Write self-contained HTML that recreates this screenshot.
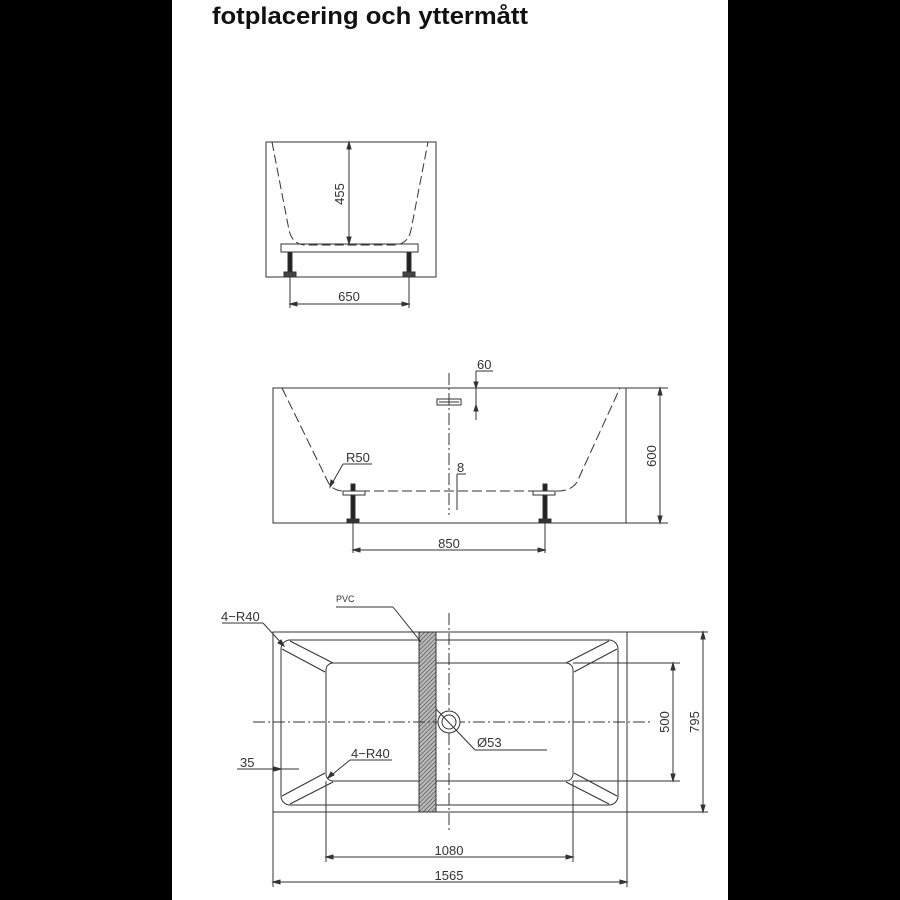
<!DOCTYPE html>
<html><head><meta charset="utf-8"><style>
html,body{margin:0;padding:0;background:#000;}
svg{display:block;}
text{font-family:"Liberation Sans",sans-serif;fill:#333;}
</style></head><body>
<svg width="900" height="900" viewBox="0 0 900 900" xmlns="http://www.w3.org/2000/svg">
<defs>
<pattern id="h" width="3" height="3" patternUnits="userSpaceOnUse" patternTransform="rotate(45)">
<rect width="3" height="3" fill="#bbb"/><line x1="0" y1="0" x2="0" y2="3" stroke="#444" stroke-width="1.2"/>
</pattern>
</defs>
<rect x="0" y="0" width="900" height="900" fill="#000"/>
<rect x="172" y="0" width="556" height="900" fill="#fff"/>
<text x="212" y="24" font-size="24" font-weight="bold" style="fill:#111" textLength="316" lengthAdjust="spacingAndGlyphs">fotplacering och yttermått</text>

<g stroke="#333" stroke-width="1" fill="none">
<!-- view 1 -->
<rect x="266" y="142" width="170" height="135"/>
<path d="M272 142 L289 230 Q292 244 305 245 L395 245 Q408 244 411 230 L428 142" stroke-dasharray="9,4"/>
<rect x="281" y="244" width="137" height="8"/>
<line x1="349" y1="142" x2="349" y2="244"/>
<path d="M349 142 l-2 7 h4z M349 244 l-2 -7 h4z" fill="#333"/>
<line x1="290" y1="277" x2="290" y2="308"/><line x1="409" y1="277" x2="409" y2="308"/>
<line x1="290" y1="304" x2="409" y2="304"/>
<path d="M290 304 l7 -2 v4z M409 304 l-7 -2 v4z" fill="#333"/>
<rect x="288" y="252" width="4" height="20" fill="#222"/>
<rect x="407" y="252" width="4" height="20" fill="#222"/>
<rect x="284" y="272" width="12" height="5" fill="#444"/>
<rect x="403" y="272" width="12" height="5" fill="#444"/>

<!-- view 2 -->
<rect x="273" y="388" width="353" height="135"/>
<path d="M282 388 L328 482 Q332 490 342 491 L560 491 Q572 490 577 482 L620 388" stroke-dasharray="10,4"/>
<line x1="449" y1="373" x2="449" y2="515" stroke-dasharray="12,3,2,3"/>
<rect x="437" y="399" width="24" height="6"/>
<line x1="439" y1="402" x2="459" y2="402"/>
<line x1="476" y1="371" x2="476" y2="420"/><line x1="476" y1="371" x2="493" y2="371"/>
<path d="M476 388 l-2 -6 h4z M476 405 l-2 6 h4z" fill="#333"/>
<line x1="457" y1="474" x2="457" y2="510"/><line x1="457" y1="474" x2="466" y2="474"/>
<line x1="343" y1="464" x2="372" y2="464"/><line x1="343" y1="464" x2="330" y2="487"/>
<path d="M330 487 l1 -7 l3 2z" fill="#333"/>
<rect x="343" y="491" width="22" height="4"/>
<rect x="533" y="491" width="22" height="4"/>
<rect x="351" y="484" width="4" height="7" fill="#222"/>
<rect x="543" y="484" width="4" height="7" fill="#222"/>
<rect x="351" y="495" width="4" height="24" fill="#222"/>
<rect x="543" y="495" width="4" height="24" fill="#222"/>
<rect x="347" y="519" width="12" height="4" fill="#333"/>
<rect x="539" y="519" width="12" height="4" fill="#333"/>
<line x1="626" y1="388" x2="668" y2="388"/><line x1="626" y1="523" x2="668" y2="523"/>
<line x1="660" y1="388" x2="660" y2="523"/>
<path d="M660 388 l-2 7 h4z M660 523 l-2 -7 h4z" fill="#333"/>
<line x1="353" y1="523" x2="353" y2="553"/><line x1="545" y1="523" x2="545" y2="553"/>
<line x1="353" y1="550" x2="545" y2="550"/>
<path d="M353 550 l7 -2 v4z M545 550 l-7 -2 v4z" fill="#333"/>

<!-- view 3 -->
<rect x="273" y="632" width="354" height="180"/>
<rect x="281" y="640" width="337" height="165" rx="9"/>
<rect x="326" y="663" width="247" height="118" rx="7"/>
<rect x="419" y="632" width="17" height="180" fill="url(#h)" stroke="#333"/>
<path d="M290 641 L333 663 M282 649 L325 672"/>
<path d="M609 641 L566 663 M617 649 L574 672"/>
<path d="M290 804 L333 782 M282 796 L325 773"/>
<path d="M609 804 L566 782 M617 796 L574 773"/>
<line x1="449" y1="613" x2="449" y2="830" stroke-dasharray="12,3,2,3"/>
<line x1="253" y1="722" x2="650" y2="722" stroke-dasharray="12,3,2,3"/>
<circle cx="449" cy="722" r="11" fill="#fff"/>
<circle cx="449" cy="722" r="7"/>
<line x1="436" y1="709" x2="475" y2="750"/><line x1="475" y1="750" x2="547" y2="750"/>
<line x1="336" y1="607" x2="393" y2="607"/><line x1="393" y1="607" x2="421" y2="642"/>
<line x1="222" y1="623" x2="263" y2="623"/><line x1="263" y1="623" x2="284" y2="646"/>
<path d="M284 646 l-6 -3 l3 -3z" fill="#333"/>
<line x1="350" y1="760" x2="392" y2="760"/><line x1="350" y1="760" x2="328" y2="778"/>
<path d="M328 778 l3 -6 l3 3z" fill="#333"/>
<line x1="237" y1="769" x2="299" y2="769"/>
<path d="M281 769 l-7 -2 v4z" fill="#333"/>
<line x1="573" y1="663" x2="680" y2="663"/><line x1="573" y1="781" x2="680" y2="781"/>
<line x1="673" y1="663" x2="673" y2="781"/>
<path d="M673 663 l-2 7 h4z M673 781 l-2 -7 h4z" fill="#333"/>
<line x1="627" y1="632" x2="708" y2="632"/><line x1="627" y1="812" x2="708" y2="812"/>
<line x1="703" y1="632" x2="703" y2="812"/>
<path d="M703 632 l-2 7 h4z M703 812 l-2 -7 h4z" fill="#333"/>
<line x1="326" y1="781" x2="326" y2="862"/><line x1="573" y1="781" x2="573" y2="862"/>
<line x1="326" y1="857" x2="573" y2="857"/>
<path d="M326 857 l7 -2 v4z M573 857 l-7 -2 v4z" fill="#333"/>
<line x1="273" y1="812" x2="273" y2="887"/><line x1="627" y1="812" x2="627" y2="887"/>
<line x1="273" y1="882" x2="627" y2="882"/>
<path d="M273 882 l7 -2 v4z M627 882 l-7 -2 v4z" fill="#333"/>
</g>

<g font-size="13">
<text x="344" y="194" transform="rotate(-90 344 194)" text-anchor="middle" dy="0">455</text>
<text x="349" y="301" text-anchor="middle">650</text>
<text x="477" y="369">60</text>
<text x="457" y="472">8</text>
<text x="346" y="462">R50</text>
<text x="656" y="456" transform="rotate(-90 656 456)" text-anchor="middle">600</text>
<text x="449" y="548" text-anchor="middle">850</text>
<text x="336" y="602" font-size="9" font-family="Liberation Mono">PVC</text>
<text x="221" y="621">4−R40</text>
<text x="351" y="758">4−R40</text>
<text x="240" y="767">35</text>
<text x="477" y="747">Ø53</text>
<text x="669" y="722" transform="rotate(-90 669 722)" text-anchor="middle">500</text>
<text x="699" y="722" transform="rotate(-90 699 722)" text-anchor="middle">795</text>
<text x="449" y="855" text-anchor="middle">1080</text>
<text x="449" y="880" text-anchor="middle">1565</text>
</g>
</svg>
</body></html>
